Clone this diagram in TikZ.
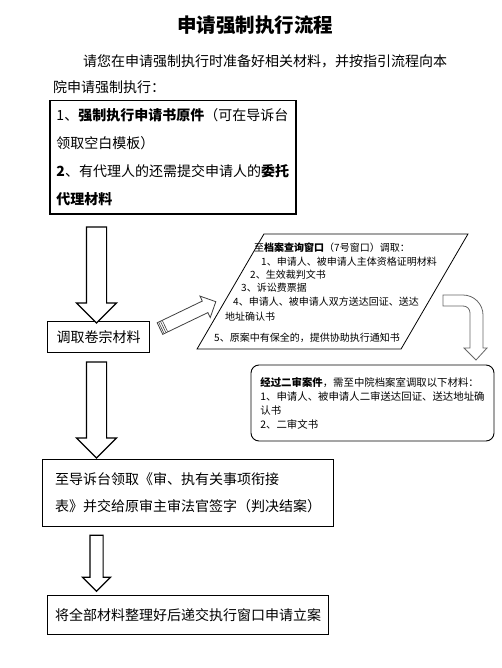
\documentclass[tikz,border=0pt]{standalone}
\usepackage{fontspec}
\setmainfont{Noto Sans CJK SC}
\usetikzlibrary{shapes.geometric,shapes.arrows,calc}

\begin{document}
\begin{tikzpicture}[
    x=1pt, y=-1pt,
    every node/.style={font=\fontsize{14}{28}\selectfont},
    box/.style={rectangle, draw, line width=1pt, align=left},
    small/.style={font=\fontsize{10}{14}\selectfont, anchor=west, inner sep=0pt},
    bigarrow/.style={single arrow, draw, line width=1.2pt, fill=white, inner xsep=0pt, inner ysep=9.5pt, single arrow head extend=10pt, minimum width=0pt, minimum height=96pt, rotate=-90},
    smallarrow/.style={single arrow, draw, line width=1.2pt, fill=white, inner xsep=0pt, inner ysep=6pt, single arrow head extend=7.5pt, minimum width=0pt, minimum height=56pt, rotate=-90},
    thinarrow/.style={single arrow, draw=black!75, line width=0.8pt, fill=white, inner xsep=0pt, inner ysep=6pt, single arrow head extend=5.5pt, minimum width=0pt, minimum height=62pt},
    bent/.style={draw=black!60, line width=0.8pt, fill=white}
]
\useasboundingbox (0,0) rectangle (502,668);

% Title and intro
\node[font=\fontsize{19.5}{24}\selectfont\bfseries] (title) at (255,25) {申请强制执行流程};
\node[anchor=west, inner sep=0pt] (intro1) at (83,61) {请您在申请强制执行时准备好相关材料，并按指引流程向本};
\node[anchor=west, inner sep=0pt] (intro2) at (53,87) {院申请强制执行：};

% Main column
\node[box, line width=1.5pt, anchor=north west, minimum width=246, minimum height=113] (apply) at (49,100)
  {1、\textbf{强制执行申请书原件}（可在导诉台\\领取空白模板）\\\textbf{2}、有代理人的还需提交申请人的\textbf{委托}\\\textbf{代理材料}};
\node[box, anchor=north west, minimum width=102, minimum height=31] (fetch) at (47,321) {调取卷宗材料};
\node[box, anchor=north west, minimum width=291, minimum height=67, font=\fontsize{14}{27}\selectfont] (sign) at (42,459)
  {至导诉台领取《审、执有关事项衔接\\表》并交给原审主审法官签字（判决结案）};
\node[box, anchor=north west, minimum width=281, minimum height=39] (submit) at (47,595) {将全部材料整理好后递交执行窗口申请立案};

% Block arrows
\node[bigarrow] (a1) at (96.5,270) {};
\node[bigarrow] (a2) at (96.5,405) {};
\node[smallarrow] (a3) at (96.5,560) {};

% Archive window
\node[trapezium, draw, line width=0.8pt, trapezium left angle=64, trapezium right angle=116,
      trapezium stretches=true, minimum width=271, minimum height=115] (archive) at (332.5,291.5) {};
\node[small] (p0) at (254,248) {至\textbf{档案查询窗口}（7号窗口）调取：};
\node[small] (p1) at (261,262) {1、申请人、被申请人主体资格证明材料};
\node[small] (p2) at (250,275) {2、生效裁判文书};
\node[small] (p3) at (241,288) {3、诉讼费票据};
\node[small] (p4) at (233,302) {4、申请人、被申请人双方送达回证、送达};
\node[small] (p5) at (225,317) {地址确认书};
\node[small] (p6) at (214,338) {5、原案中有保全的，提供协助执行通知书};

% Arrow to archive window
\node[thinarrow, rotate=25.7] (a4) at (185,316.5) {};
\foreach \d in {2,4,6}
  \draw[black!75, line width=0.6pt] ($($(a4.tail)!\d pt!(a4.tip)$)!6pt!90:(a4.tip)$) -- ($($(a4.tail)!\d pt!(a4.tip)$)!6pt!-90:(a4.tip)$);

% Second instance box
\node[draw, line width=0.9pt, rounded corners=8pt, minimum width=243, minimum height=76, align=left,
      font=\fontsize{10.4}{14}\selectfont] (second) at (372.5,403)
  {\textbf{经过二审案件}，需至中院档案室调取以下材料：\\1、申请人、被申请人二审送达回证、送达地址确\\认书\\2、二审文书};

% Bent arrow down to it
\coordinate (bstart) at (443,295);
\draw[bent] (bstart) -- (463,295) .. controls (474,295) and (483,304) .. (483,315) -- (483,348) -- (487,348)
  -- (476,360) -- (464,348) -- (470,348) -- (470,313) .. controls (470,309) and (467,306) .. (463,306)
  -- (443,306) -- cycle;

\end{tikzpicture}
\end{document}
